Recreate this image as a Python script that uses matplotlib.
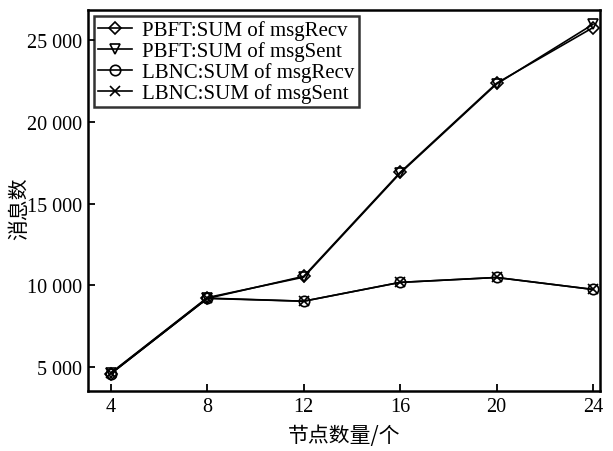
import matplotlib
matplotlib.use("Agg")
import matplotlib.pyplot as plt
from matplotlib.ticker import FuncFormatter

# 节点数量
nodes = [4, 8, 12, 16, 20, 24]

# 消息数
pbft_recv = [4600, 9200, 10550, 16900, 22350, 25750]
pbft_sent = [4650, 9250, 10500, 16850, 22300, 25950]
lbnc_recv = [4600, 9200, 9030, 10180, 10480, 9750]
lbnc_sent = [4620, 9220, 9030, 10180, 10480, 9750]

labels = ["PBFT:SUM of msgRecv", "PBFT:SUM of msgSent",
          "LBNC:SUM of msgRecv", "LBNC:SUM of msgSent"]
yticks = [5000, 10000, 15000, 20000, 25000]

serif = ["Liberation Serif", "DejaVu Serif"]
cjk = ["Noto Sans CJK SC", "DejaVu Sans"]

fig = plt.figure(figsize=(6.13, 4.52), dpi=100)
ax = fig.add_axes([0.1436, 0.1327, 0.979 - 0.1436, 0.9757 - 0.1327])

style = dict(color="black", linewidth=1.2, markersize=7.5, markerfacecolor="none",
             markeredgewidth=1.2)
ax.plot(nodes, pbft_recv, marker="D", label=labels[0], **{**style, "markersize": 6.5})
ax.plot(nodes, pbft_sent, marker="v", label=labels[1], **style)
ax.plot(nodes, lbnc_recv, marker="o", label=labels[2], **style)
ax.plot(nodes, lbnc_sent, marker="x", label=labels[3], **style)

ax.set_xlim(3.05, 24.3)
ax.set_ylim(3540, 26830)
ax.set_xticks(nodes)
ax.set_yticks(yticks)
ax.yaxis.set_major_formatter(FuncFormatter(lambda v, p: f"{int(v):,}".replace(",", " ")))

for s in ax.spines.values():
    s.set_linewidth(1.8)
ax.tick_params(direction="in", length=5, width=1.3, labelsize=14.5, pad=4)
for t in ax.get_xticklabels() + ax.get_yticklabels():
    t.set_family(serif)

ax.set_xlabel("节点数量/个", family=cjk, fontsize=15, labelpad=6)
ax.set_ylabel("消息数", family=cjk, fontsize=15)
ax.yaxis.set_label_coords(-0.112, 0.48)

leg = ax.legend(loc="upper left", prop={"family": serif, "size": 15},
                frameon=True, fancybox=False, handlelength=1.6,
                borderpad=0.2, labelspacing=0.05, handletextpad=0.5,
                borderaxespad=0.3)
leg.get_frame().set_edgecolor("black")
leg.get_frame().set_linewidth(1.8)

fig.savefig("out.png", dpi=100)
